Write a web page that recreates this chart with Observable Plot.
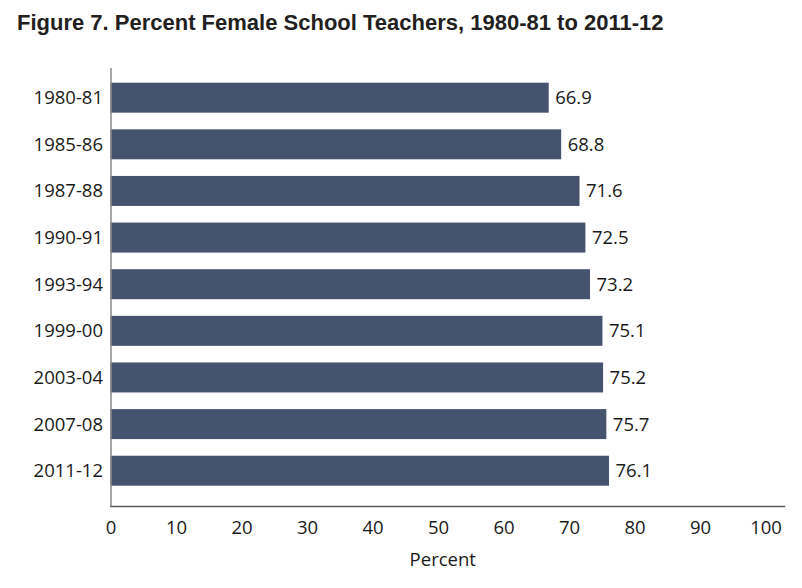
<!DOCTYPE html>
<html>
<head>
<meta charset="utf-8">
<script src="https://cdn.jsdelivr.net/npm/d3@7"></script>
<script src="https://cdn.jsdelivr.net/npm/@observablehq/plot@0.6"></script>
<style>
  html, body { margin: 0; padding: 0; background: #fff; }
  #title { height: 30px; padding-top: 10px; padding-left: 17px; line-height: 24px;
           font: bold 22px "Liberation Sans", Arial, sans-serif; color: #231f20; white-space: nowrap; }
</style>
</head>
<body>
<div id="title">Figure 7. Percent Female School Teachers, 1980-81 to 2011-12</div>
<div id="chart"></div>
<script>
const years = ["1980-81","1985-86","1987-88","1990-91","1993-94","1999-00","2003-04","2007-08","2011-12"];
const percents = [66.9, 68.8, 71.6, 72.5, 73.2, 75.1, 75.2, 75.7, 76.1];
const xTicks = [0,10,20,30,40,50,60,70,80,90,100];
const xLabel = "Percent";

const data = years.map((y, i) => ({year: y, value: percents[i]}));
const font = '"Open Sans", "Noto Sans", sans-serif';

const chart = Plot.plot({
  width: 802,
  height: 548,
  marginTop: 28,
  marginBottom: 82,
  marginLeft: 110.5,
  marginRight: 18,
  style: {fontFamily: font, fontSize: "18.5px", color: "#1a1a1a", background: "#fff"},
  x: {domain: [0, 102.82], ticks: xTicks, label: null},
  y: {domain: years, paddingInner: 0.357, paddingOuter: 0.375, align: 0.42, round: false, label: null},
  marks: [
    Plot.barX(data, {x: "value", y: "year", fill: "#46536f"}),
    Plot.text(data, {x: "value", y: "year", text: d => d.value.toFixed(1), textAnchor: "start", dx: 6, fill: "#1a1a1a"}),
    Plot.ruleX([0], {stroke: "#8a8a8a", strokeWidth: 1.5}),
    Plot.frame({anchor: "bottom", stroke: "#595959", strokeWidth: 1.5}),
    Plot.axisX({ticks: xTicks, tickSize: 0, tickPadding: 14, label: null, tickFormat: d => String(d)}),
    Plot.axisY({tickSize: 0, tickPadding: 8, label: null}),
    Plot.text([xLabel], {frameAnchor: "bottom", text: d => d, dy: 59, dx: -5, fill: "#1a1a1a"})
  ]
});
document.getElementById("chart").appendChild(chart);
</script>
</body>
</html>
